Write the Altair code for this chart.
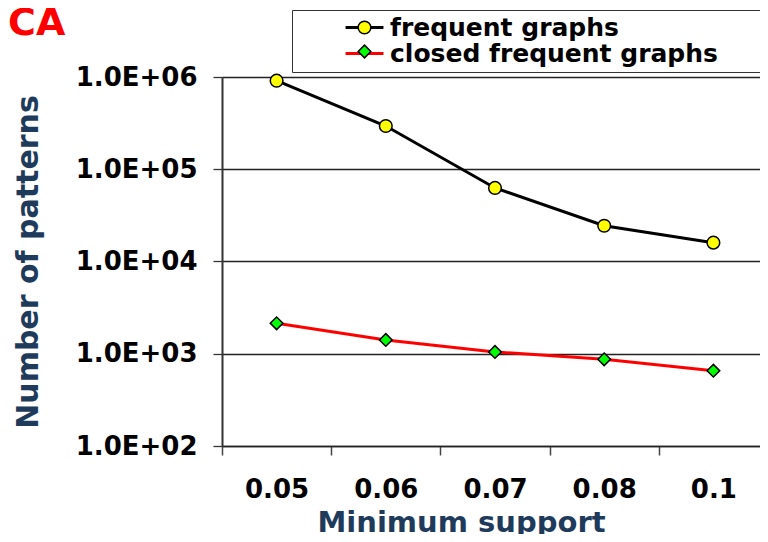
import altair as alt
import pandas as pd

support = ["0.05", "0.06", "0.07", "0.08", "0.1"]
frequent = [912000, 294000, 62700, 24400, 16000]
closed = [2140, 1410, 1045, 871, 655]
series_names = ["frequent graphs", "closed frequent graphs"]
y_ticks = [1e2, 1e3, 1e4, 1e5, 1e6]
line_colors = ["black", "red"]
fill_colors = ["#FFFF00", "#00FF00"]
shapes = ["circle", "diamond"]

rows = []
for s, vals in zip(series_names, [frequent, closed]):
    for xv, v in zip(support, vals):
        rows.append({"support": xv, "value": v, "series": s, "series2": s, "series3": s})
df = pd.DataFrame(rows)

FONT = "DejaVu Sans"
TITLE_COLOR = "#1F3B5C"

x = alt.X(
    "support:N",
    sort=support,
    scale=alt.Scale(type="band", paddingInner=0, paddingOuter=0, range=[0, 546]),
    axis=alt.Axis(
        title="Minimum support",
        labelAngle=0,
        tickBand="extent",
        grid=False,
        tickSize=9,
        tickColor="#444",
        tickWidth=1.5,
        domainColor="#222",
        domainWidth=1.5,
        labelPadding=21,
        labelFontSize=26,
        titleFontSize=29,
        titleX=239,
        titleY=85,
        titleAlign="center",
        titleBaseline="alphabetic",
    ),
)
y = alt.Y(
    "value:Q",
    scale=alt.Scale(type="log", domain=[100, 1e6]),
    axis=alt.Axis(
        title="Number of patterns",
        values=y_ticks,
        labelExpr="'1.0E+0' + round(log(datum.value) / LN10)",
        grid=True,
        gridColor="#222",
        gridWidth=1.3,
        tickSize=9,
        tickColor="#333",
        tickWidth=1.3,
        domainColor="#333",
        domainWidth=2,
        labelPadding=16,
        labelFontSize=26,
        titleFontSize=30,
        titleAngle=270,
        titleX=-185,
        titleY=184.5,
        titleAlign="center",
        titleBaseline="alphabetic",
    ),
)

common_leg = dict(
    title=" ",
    titleOrient="right",
    titlePadding=40,
    titleFontSize=25,
    orient="none",
    legendX=70,
    symbolSize=160,
    symbolOffset=55,
    labelOffset=13,
    labelFont=FONT,
    labelFontSize=25,
    labelFontWeight="bold",
    labelColor="black",
    labelLimit=500,
    padding=5,
    rowPadding=-3,
)

leg1 = alt.Legend(
    legendY=-67,
    symbolType="M-3,0H3",
    symbolStrokeWidth=3,
    strokeColor="#333",
    **common_leg,
)
leg_circle = alt.Legend(
    legendY=-67,
    values=[series_names[0]],
    symbolType="circle",
    symbolStrokeColor="black",
    symbolFillColor=fill_colors[0],
    symbolStrokeWidth=1.5,
    labelOpacity=0,
    **common_leg,
)
leg_diamond = alt.Legend(
    legendY=-43,
    values=[series_names[1]],
    symbolStrokeColor="black",
    symbolFillColor=fill_colors[1],
    symbolStrokeWidth=1.5,
    labelOpacity=0,
    **common_leg,
)

lines = alt.Chart(df).mark_line(strokeWidth=3).encode(
    x=x,
    y=y,
    color=alt.Color(
        "series:N",
        sort=series_names,
        scale=alt.Scale(range=line_colors),
        legend=leg1,
    ),
)

points = alt.Chart(df).mark_point(
    filled=True, stroke="black", strokeWidth=1.5, size=160, opacity=1
).encode(
    x=x,
    y=y,
    color=alt.Color(
        "series2:N",
        sort=series_names,
        scale=alt.Scale(range=fill_colors),
        legend=leg_circle,
    ),
    shape=alt.Shape(
        "series3:N",
        sort=series_names,
        scale=alt.Scale(range=shapes),
        legend=leg_diamond,
    ),
)

chart = (
    alt.layer(lines, points)
    .resolve_scale(color="independent", shape="independent")
    .properties(
        width=538,
        height=369,
        autosize=alt.AutoSizeParams(type="none"),
        padding={"left": 214, "top": 69, "right": 0, "bottom": 88},
        title=alt.Title(
            "CA",
            color="red",
            fontSize=38,
            font=FONT,
            fontWeight="bold",
            anchor="start",
            frame="group",
            dx=-214,
            offset=-63,
            baseline="alphabetic",
        ),
    )
    .configure_view(stroke=None)
    .configure_axis(
        labelFont=FONT,
        labelFontWeight="bold",
        labelColor="black",
        titleFont=FONT,
        titleFontWeight="bold",
        titleColor=TITLE_COLOR,
    )
)

chart.save("out.html", embed_options={"renderer": "svg", "actions": False})
